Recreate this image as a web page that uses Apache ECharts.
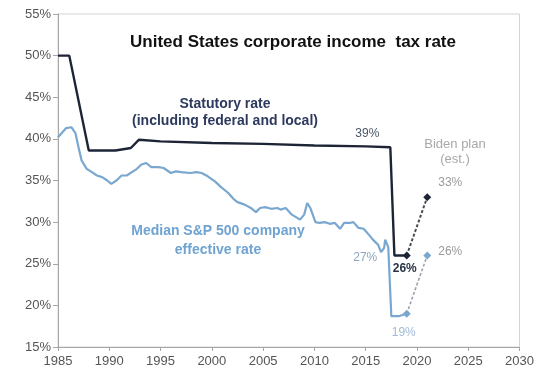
<!DOCTYPE html>
<html>
<head>
<meta charset="utf-8">
<script src="https://cdn.jsdelivr.net/npm/echarts@6/dist/echarts.min.js"></script>
<style>
  html, body { margin: 0; padding: 0; background: #ffffff; }
  #chart { width: 537px; height: 370px; }
</style>
</head>
<body>
<div id="chart"></div>
<script>
// Statutory rate, federal plus state and local (%)
const statutoryYears = [1985, 1986.1, 1988.0, 1990.6, 1992.1, 1992.9, 1995, 2000, 2005, 2010, 2015, 2017.4, 2017.8, 2019];
const statutoryRates = [50, 50, 38.6, 38.6, 38.9, 39.9, 39.7, 39.5, 39.4, 39.2, 39.1, 39.0, 26, 26];

// Median S&P 500 company effective rate (%)
const effectiveYears = [
  1985.0, 1985.8, 1986.3, 1986.7, 1987.0, 1987.3, 1987.8, 1988.3, 1988.8, 1989.3,
  1989.8, 1990.2, 1990.7, 1991.2, 1991.7, 1992.2, 1992.7, 1993.1, 1993.6, 1994.1,
  1994.8, 1995.3, 1996.0, 1996.5, 1997.0, 1997.9, 1998.5, 1999.0, 1999.6, 2000.3,
  2000.9, 2001.6, 2002.1, 2002.5, 2003.2, 2003.8, 2004.3, 2004.7, 2005.2, 2005.8,
  2006.4, 2006.7, 2007.2, 2007.8, 2008.6, 2009.0, 2009.3, 2009.6, 2010.1, 2010.5,
  2011.0, 2011.5, 2012.0, 2012.5, 2012.9, 2013.4, 2013.8, 2014.3, 2014.8, 2015.3,
  2015.7, 2016.2, 2016.5, 2016.8, 2016.9, 2017.2, 2017.5, 2018.2, 2019.0
];
const effectiveRates = [
  40.2, 41.3, 41.4, 40.7, 39.0, 37.4, 36.4, 36.0, 35.6, 35.4,
  35.0, 34.6, 35.0, 35.6, 35.6, 36.0, 36.4, 36.9, 37.1, 36.6,
  36.6, 36.5, 35.9, 36.1, 36.0, 35.9, 36.0, 35.9, 35.5, 34.9,
  34.2, 33.5, 32.8, 32.4, 32.1, 31.7, 31.2, 31.7, 31.8, 31.6,
  31.7, 31.5, 31.7, 30.9, 30.3, 30.9, 32.3, 31.7, 30.0, 29.9,
  30.0, 29.8, 29.9, 29.2, 29.9, 29.9, 30.0, 29.3, 29.2, 28.5,
  27.9, 27.3, 26.4, 26.9, 27.9, 27.0, 18.7, 18.7, 19.0
];

// Biden plan estimate (%)
const planYears = [2019, 2021];
const statutoryPlan = [26, 33];
const effectivePlan = [19, 26];

// Axis ticks
const yearMin = 1985, yearMax = 2030, yearStep = 5;
const rateMin = 15, rateMax = 55, rateStep = 5;

const FONT = '"Liberation Sans", Arial, sans-serif';
const NAVY = '#1d2436';
const BLUE = '#79a7d0';

const pct = p => Math.round(p.value[1]) + '%';

function valueLabel(color, offset, bold) {
  return {
    show: true, position: 'inside', offset: offset, formatter: pct,
    color: color, fontSize: 12, fontFamily: FONT, fontWeight: bold ? 'bold' : 'normal'
  };
}

// Build [year, value] pairs; one index may carry a value label
function pairs(xs, ys, labelIndex, label) {
  return xs.map((x, i) => {
    if (i === labelIndex) {
      return { value: [x, ys[i]], symbol: 'circle', symbolSize: 0.1, label: label };
    }
    return [x, ys[i]];
  });
}

const statutoryData = pairs(statutoryYears, statutoryRates,
  statutoryRates.indexOf(39.0), valueLabel('#4a5566', [-23, -14], false));
const effectiveData = pairs(effectiveYears, effectiveRates,
  effectiveYears.indexOf(2017.2), valueLabel('#8ea6bf', [-23, 11], false));

const statutoryPlanData = planYears.map((x, i) => ({
  value: [x, statutoryPlan[i]],
  label: i === 0 ? valueLabel('#2a3345', [-2, 13], true) : valueLabel('#9a9a9a', [23, -14], false)
}));
const effectivePlanData = planYears.map((x, i) => ({
  value: [x, effectivePlan[i]],
  label: i === 0 ? valueLabel('#9fbbd6', [-3, 19], false) : valueLabel('#9a9a9a', [23, -4], false)
}));

const chart = echarts.init(document.getElementById('chart'), null, { renderer: 'canvas' });

chart.setOption({
  animation: false,
  backgroundColor: '#ffffff',
  grid: {
    left: 58, right: 12, top: 14, bottom: 23,
    show: true, borderColor: '#d4d4d4', borderWidth: 1, backgroundColor: 'transparent'
  },
  xAxis: {
    type: 'value', min: yearMin, max: yearMax, interval: yearStep,
    axisLine: { show: true, lineStyle: { color: '#a6a6a6', width: 1 } },
    axisTick: { show: true, length: 4, lineStyle: { color: '#a6a6a6' } },
    splitLine: { show: false },
    axisLabel: { color: '#555555', fontSize: 13, fontFamily: FONT, margin: 8, formatter: v => String(v) }
  },
  yAxis: {
    type: 'value', min: rateMin, max: rateMax, interval: rateStep,
    axisLine: { show: true, lineStyle: { color: '#a6a6a6', width: 1 } },
    axisTick: { show: true, length: 5, lineStyle: { color: '#a6a6a6' } },
    splitLine: { show: false },
    axisLabel: { color: '#555555', fontSize: 13, fontFamily: FONT, margin: 7, formatter: '{value}%' }
  },
  series: [
    {
      name: 'Effective plan', type: 'line', data: effectivePlanData,
      symbol: 'diamond', symbolSize: 8, showAllSymbol: true,
      itemStyle: { color: BLUE },
      lineStyle: { color: '#9aa3ad', width: 1.6, type: [3, 2] },
      z: 2
    },
    {
      name: 'Statutory plan', type: 'line', data: statutoryPlanData,
      symbol: 'diamond', symbolSize: 8, showAllSymbol: true,
      itemStyle: { color: NAVY },
      lineStyle: { color: '#4a4d55', width: 2, type: [3, 2] },
      z: 2
    },
    {
      name: 'Median S&P 500 company effective rate', type: 'line', data: effectiveData,
      symbol: 'none', showAllSymbol: true,
      lineStyle: { color: BLUE, width: 2.2 },
      itemStyle: { color: BLUE },
      z: 3
    },
    {
      name: 'Statutory rate', type: 'line', data: statutoryData,
      symbol: 'none', showAllSymbol: true,
      lineStyle: { color: NAVY, width: 2.4 },
      itemStyle: { color: NAVY },
      z: 4
    }
  ],
  graphic: [
    {
      type: 'text', silent: true, position: [293, 42],
      style: {
        text: 'United States corporate income  tax rate',
        textAlign: 'center', textVerticalAlign: 'middle',
        font: 'bold 17px ' + FONT, fill: '#111111'
      }
    },
    {
      type: 'text', silent: true, position: [225, 113],
      style: {
        text: 'Statutory rate\n(including federal and local)',
        textAlign: 'center', textVerticalAlign: 'middle', lineHeight: 17,
        font: 'bold 14px ' + FONT, fill: '#2d3a5e'
      }
    },
    {
      type: 'text', silent: true, position: [218, 241],
      style: {
        text: 'Median S&P 500 company\neffective rate',
        textAlign: 'center', textVerticalAlign: 'middle', lineHeight: 19,
        font: 'bold 14px ' + FONT, fill: '#6fa3d2'
      }
    },
    {
      type: 'text', silent: true, position: [455, 152],
      style: {
        text: 'Biden plan\n(est.)',
        textAlign: 'center', textVerticalAlign: 'middle', lineHeight: 15,
        font: '13px ' + FONT, fill: '#a8a8a8'
      }
    }
  ]
});
</script>
</body>
</html>
